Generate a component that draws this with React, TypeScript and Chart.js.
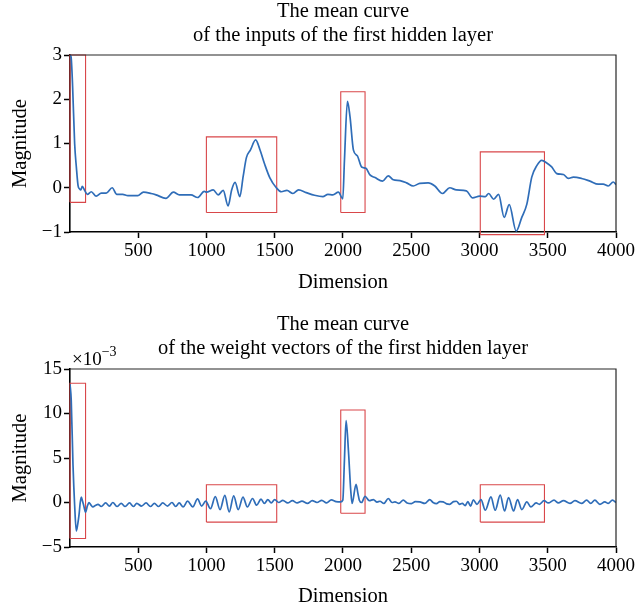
import React, { useEffect, useRef } from "react";
import { Chart, registerables } from "chart.js";

Chart.register(...registerables);

// ---------- data ----------
const xTickValues = [500, 1000, 1500, 2000, 2500, 3000, 3500, 4000];
const inputYTicks = [-1, 0, 1, 2, 3];
const weightYTicks = [-5, 0, 5, 10, 15];

const inputTitle = ["The mean curve", "of the inputs of the first hidden layer"];
const weightTitle = ["The mean curve", "of the weight vectors of the first hidden layer"];
const xAxisLabel = "Dimension";
const yAxisLabel = "Magnitude";
const weightExponentBase = "×10";
const weightExponentPower = "−3";

const inputDim = [
  1, 9, 20, 35, 48, 60, 72, 80, 91, 108, 128, 157, 193, 230, 266, 310, 344, 387, 425, 497,
  539, 595, 631, 704, 758, 802, 887, 936, 984, 1001, 1050, 1086, 1123, 1159, 1185, 1210, 1245, 1269, 1293, 1322,
  1361, 1391, 1427, 1464, 1512, 1549, 1590, 1634, 1675, 1731, 1792, 1853, 1890, 1926, 1967, 1999, 2011, 2033, 2052, 2077,
  2106, 2137, 2169, 2198, 2235, 2290, 2332, 2369, 2418, 2466, 2515, 2563, 2624, 2673, 2729, 2782, 2831, 2904, 2950, 3001,
  3043, 3067, 3104, 3140, 3181, 3218, 3269, 3310, 3347, 3383, 3420, 3456, 3493, 3529, 3566, 3615, 3651, 3688, 3748, 3809,
  3870, 3906, 3943, 3980, 4000,
];
const inputMean = [
  3.0, 2.95, 2.3, 1.0, 0.45, 0.05, -0.03, -0.05, 0.03, -0.06, -0.15, -0.09, -0.19, -0.12, -0.12, 0.0, -0.15, -0.15, -0.18, -0.18,
  -0.1, -0.13, -0.16, -0.24, -0.1, -0.16, -0.16, -0.22, -0.08, -0.1, -0.05, -0.16, -0.06, -0.41, -0.05, 0.12, -0.2, 0.25, 0.68, 0.85,
  1.08, 0.87, 0.53, 0.23, 0.0, -0.09, -0.06, -0.13, -0.05, -0.11, -0.17, -0.2, -0.15, -0.16, -0.1, -0.25, 0.61, 1.95, 1.6, 0.85,
  0.72, 0.47, 0.44, 0.29, 0.23, 0.15, 0.27, 0.18, 0.16, 0.11, 0.04, 0.1, 0.11, 0.04, -0.13, 0.0, -0.05, -0.07, -0.23, -0.19,
  -0.2, -0.13, -0.26, -0.15, -0.67, -0.38, -0.98, -0.67, -0.37, 0.24, 0.5, 0.62, 0.56, 0.47, 0.32, 0.3, 0.21, 0.24, 0.21, 0.15,
  0.08, 0.08, 0.04, 0.13, 0.07,
];

// weight curve values are in units of 1e-3
const weightDim = [
  1, 10, 23, 35, 47, 58, 67, 76, 84, 92, 101, 115, 128, 140, 155, 169, 190, 206, 230, 262,
  290, 315, 345, 376, 405, 437, 465, 490, 525, 558, 590, 619, 650, 680, 715, 748, 775, 801, 830, 862,
  900, 935, 965, 995, 1030, 1065, 1100, 1135, 1167, 1200, 1233, 1268, 1300, 1338, 1368, 1400, 1425, 1450, 1475, 1500,
  1530, 1560, 1595, 1630, 1665, 1700, 1740, 1775, 1810, 1845, 1880, 1915, 1950, 1984, 1999, 2011, 2023, 2040, 2057, 2067,
  2096, 2110, 2120, 2137, 2162, 2193, 2223, 2250, 2271, 2300, 2332, 2360, 2381, 2410, 2442, 2470, 2502, 2530, 2563, 2600,
  2636, 2660, 2685, 2710, 2734, 2760, 2782, 2810, 2831, 2855, 2874, 2895, 2915, 2935, 2955, 2982, 3011, 3043, 3084, 3115,
  3152, 3184, 3213, 3250, 3279, 3310, 3347, 3376, 3415, 3439, 3473, 3504, 3546, 3578, 3615, 3663, 3699, 3748, 3785, 3815,
  3845, 3882, 3918, 3943, 3974, 4000,
];
const weightMean = [
  13.3, 11.5, 4.2, -0.3, -3.2, -2.4, -1.4, 0.0, 0.6, 0.2, -0.3, -1.1, -0.4, 0.0, -0.3, -0.5, -0.3, -0.2, -0.45, -0.05,
  -0.4, 0.0, -0.45, -0.1, -0.45, -0.05, -0.45, -0.1, -0.4, -0.05, -0.45, -0.1, -0.45, -0.05, -0.4, 0.0, -0.45, -0.05, -0.5, 0.15,
  -0.5, 0.4, -0.4, 0.15, -0.7, 0.65, -0.8, 0.8, -1.05, 0.75, -0.8, 0.6, -0.5, 0.45, -0.3, 0.37, -0.1, 0.33, -0.05, 0.33,
  0.0, 0.25, -0.05, 0.2, -0.05, 0.15, -0.1, 0.2, 0.0, 0.25, -0.05, 0.3, 0.1, 0.07, 0.26, 4.76, 9.2, 5.9, 1.4, -0.1,
  2.05, 1.0, 0.26, 0.0, 0.7, 0.2, 0.33, 0.05, 0.14, -0.1, 0.45, 0.0, 0.07, -0.1, 0.26, -0.05, -0.12, 0.1, 0.07, -0.1,
  0.33, 0.0, -0.12, 0.1, 0.07, -0.15, -0.2, 0.1, 0.14, -0.2, -0.1, -0.35, 0.1, -0.4, 0.3, -0.2, 0.33, -0.87, 0.63, -0.87,
  0.82, -0.95, 0.56, -0.95, 0.33, -0.8, 0.07, -0.5, -0.05, -0.2, 0.2, -0.05, 0.26, -0.05, 0.2, -0.1, 0.2, -0.1, 0.26, -0.1,
  0.26, -0.2, 0.07, -0.1, 0.26, 0.0,
];

// highlighted regions (data coordinates)
const inputBoxX0 = [1, 1000, 1984, 3006];
const inputBoxX1 = [115, 1515, 2162, 3476];
const inputBoxY0 = [-0.33, -0.56, -0.56, -1.06];
const inputBoxY1 = [3.0, 1.15, 2.17, 0.81];

const weightBoxX0 = [1, 1000, 1984, 3006];
const weightBoxX1 = [115, 1515, 2162, 3476];
const weightBoxY0 = [-4.05, -2.2, -1.2, -2.2];
const weightBoxY1 = [13.4, 2.0, 10.4, 2.0];

// ---------- styling ----------
const FONT = "'Liberation Serif', 'Times New Roman', serif";
const BLUE = "#2f6db8";
const RED = "#d9474a";
const LABEL_SIZE = 20.5;
const LABEL_LH = 24 / 20.5;

const minusify = (v: number | string) => String(v).replace("-", "\u2212");

const framePlugin = {
  id: "frame",
  afterDraw(chart: any) {
    const { ctx, chartArea } = chart;
    ctx.save();
    ctx.strokeStyle = "#262626";
    ctx.lineWidth = 1.2;
    ctx.beginPath();
    ctx.moveTo(chartArea.left, chartArea.top);
    ctx.lineTo(chartArea.right, chartArea.top);
    ctx.lineTo(chartArea.right, chartArea.bottom);
    ctx.stroke();
    ctx.restore();
  },
};

// title centred over the plot area (like the original figure)
const makeTitlePlugin = (lines: string[], firstCenter: number) => ({
  id: "plotTitle",
  afterDraw(chart: any) {
    const { ctx, chartArea } = chart;
    ctx.save();
    ctx.fillStyle = "#000";
    ctx.textAlign = "center";
    ctx.textBaseline = "middle";
    ctx.font = `${LABEL_SIZE}px ${FONT}`;
    const cx = (chartArea.left + chartArea.right) / 2;
    lines.forEach((t, i) => ctx.fillText(t, cx, firstCenter + i * 24));
    ctx.restore();
  },
});

const exponentPlugin = {
  id: "exponent",
  afterDraw(chart: any) {
    const { ctx, chartArea } = chart;
    ctx.save();
    ctx.fillStyle = "#000";
    ctx.textAlign = "left";
    ctx.textBaseline = "alphabetic";
    ctx.font = `19px ${FONT}`;
    const x = chartArea.left + 2;
    const y = chartArea.top - 4;
    ctx.fillText(weightExponentBase, x, y);
    const w = ctx.measureText(weightExponentBase).width;
    ctx.font = `14px ${FONT}`;
    ctx.fillText(weightExponentPower, x + w, y - 9);
    ctx.restore();
  },
};

type PanelProps = {
  height: number;
  title: string[];
  titleCenter: number;
  topSpace: number;
  dims: number[];
  values: number[];
  yMin: number;
  yMax: number;
  yTicks: number[];
  bx0: number[];
  bx1: number[];
  by0: number[];
  by1: number[];
  xAxisHeight: number;
  xTitlePadBottom: number;
  exponent?: boolean;
};

function Panel(p: PanelProps) {
  const ref = useRef<HTMLCanvasElement | null>(null);
  useEffect(() => {
    if (!ref.current) return;
    const curve = {
      data: p.dims.map((x, i) => ({ x, y: p.values[i] })),
      borderColor: BLUE,
      borderWidth: 1.7,
      pointRadius: 0,
      cubicInterpolationMode: "monotone",
      fill: false,
      order: 0,
    };
    const boxes = p.bx0.map((_, i) => ({
      data: [
        { x: p.bx0[i], y: p.by0[i] },
        { x: p.bx1[i], y: p.by0[i] },
        { x: p.bx1[i], y: p.by1[i] },
        { x: p.bx0[i], y: p.by1[i] },
        { x: p.bx0[i], y: p.by0[i] },
      ],
      borderColor: RED,
      borderWidth: 1.1,
      pointRadius: 0,
      tension: 0,
      fill: false,
      clip: false,
      order: 1,
    }));
    const tickFont = { family: FONT, size: 19, lineHeight: 1.2 };
    const labelFont = { family: FONT, size: LABEL_SIZE, weight: "normal", lineHeight: LABEL_LH };
    const plugins: any[] = [framePlugin, makeTitlePlugin(p.title, p.titleCenter)];
    if (p.exponent) plugins.push(exponentPlugin);
    const chart = new Chart(ref.current, {
      type: "line",
      data: { datasets: [curve, ...boxes] as any },
      plugins,
      options: {
        animation: false,
        responsive: false,
        maintainAspectRatio: false,
        devicePixelRatio: 1,
        layout: { padding: { left: 0, right: 20, top: p.topSpace, bottom: 0 } },
        plugins: {
          legend: { display: false },
          tooltip: { enabled: false },
          title: { display: false },
        },
        scales: {
          x: {
            type: "linear",
            min: 1,
            max: 4000,
            afterBuildTicks: (s: any) => {
              s.ticks = xTickValues.map((v) => ({ value: v }));
            },
            afterFit: (s: any) => {
              s.height = p.xAxisHeight;
            },
            ticks: {
              color: "#000",
              font: tickFont,
              padding: 2,
              maxRotation: 0,
              autoSkip: false,
              callback: (v: any) => minusify(v),
            },
            grid: {
              display: true,
              drawOnChartArea: false,
              drawTicks: true,
              tickLength: 6,
              tickColor: "#000",
              tickWidth: 1.5,
            },
            border: { display: true, color: "#000", width: 1.6 },
            title: {
              display: true,
              text: xAxisLabel,
              color: "#000",
              font: labelFont,
              padding: { top: 0, bottom: p.xTitlePadBottom },
            },
          },
          y: {
            type: "linear",
            min: p.yMin,
            max: p.yMax,
            afterBuildTicks: (s: any) => {
              s.ticks = p.yTicks.map((v) => ({ value: v }));
            },
            afterFit: (s: any) => {
              s.width = 70;
            },
            ticks: {
              color: "#000",
              font: tickFont,
              padding: 2,
              autoSkip: false,
              callback: (v: any) => minusify(v),
            },
            grid: {
              display: true,
              drawOnChartArea: false,
              drawTicks: true,
              tickLength: 6,
              tickColor: "#000",
              tickWidth: 1.5,
            },
            border: { display: true, color: "#000", width: 1.6 },
            title: {
              display: true,
              text: yAxisLabel,
              color: "#000",
              font: labelFont,
              padding: { top: 9, bottom: 0 },
            },
          },
        },
      } as any,
    });
    return () => chart.destroy();
  }, []);
  return (
    <canvas
      ref={ref}
      width={637}
      height={p.height}
      style={{ display: "block", width: 637, height: p.height }}
    />
  );
}

export default function App() {
  return (
    <div style={{ position: "absolute", left: 0, top: 0, width: 637, height: 613, background: "#fff" }}>
      <Panel
        height={306}
        title={inputTitle}
        titleCenter={12}
        topSpace={55}
        dims={inputDim}
        values={inputMean}
        yMin={-1}
        yMax={3}
        yTicks={inputYTicks}
        bx0={inputBoxX0}
        bx1={inputBoxX1}
        by0={inputBoxY0}
        by1={inputBoxY1}
        xAxisHeight={74}
        xTitlePadBottom={11}
      />
      <Panel
        height={307}
        title={weightTitle}
        titleCenter={19}
        topSpace={63}
        dims={weightDim}
        values={weightMean}
        yMin={-5}
        yMax={15}
        yTicks={weightYTicks}
        bx0={weightBoxX0}
        bx1={weightBoxX1}
        by0={weightBoxY0}
        by1={weightBoxY1}
        xAxisHeight={66}
        xTitlePadBottom={4}
        exponent
      />
    </div>
  );
}
